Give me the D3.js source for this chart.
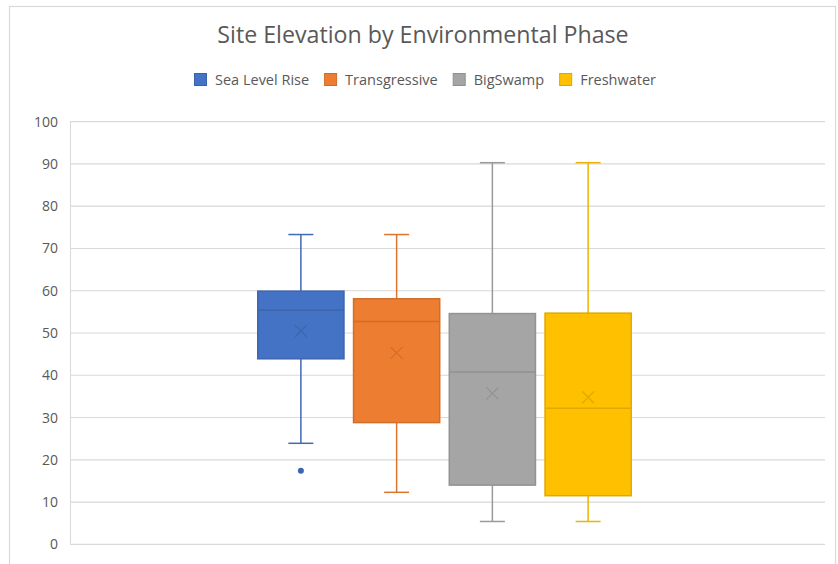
<!DOCTYPE html>
<html><head><meta charset="utf-8">
<script src="https://cdn.jsdelivr.net/npm/d3@7"></script>
<style>body{margin:0;background:#fff}svg{display:block}text{font-family:"Open Sans","Noto Sans",sans-serif}</style>
</head><body><svg id="c" width="838" height="564"></svg>
<script>
const title = "Site Elevation by Environmental Phase";
const seriesNames = ["Sea Level Rise","Transgressive","BigSwamp","Freshwater"];
const colors = ["#4472C4","#ED7D31","#A5A5A5","#FFC000"];
const minWhisker = [23.9, 12.3, 5.4, 5.4];
const q1 = [43.9, 28.8, 14.0, 11.5];
const median = [55.4, 52.7, 40.8, 32.2];
const q3 = [59.9, 58.1, 54.6, 54.7];
const maxWhisker = [73.3, 73.3, 90.3, 90.3];
const means = [50.5, 45.3, 35.7, 34.8];
const outliers = [[17.4], [], [], []];
const yTicks = [0,10,20,30,40,50,60,70,80,90,100];

const svg = d3.select("#c");
const L = 70, R = 825, T = 121.7, B = 544.3;
const ink = "#595959";

// chart border
svg.append("rect").attr("x",9.5).attr("y",6.5).attr("width",826).attr("height",600)
  .attr("fill","none").attr("stroke","#d9d9d9").attr("stroke-width",1.2);

svg.append("text").attr("x",423).attr("y",43).attr("text-anchor","middle")
  .attr("font-size",23.2).attr("fill",ink).text(title);

const y = d3.scaleLinear().domain([0,100]).range([B,T]);
const x = d3.scaleBand().domain(seriesNames).range([L+183, L+566]).paddingInner(0.1).paddingOuter(0.05);

// gridlines
svg.append("g").selectAll("line").data(yTicks).join("line")
  .attr("x1",L).attr("x2",R).attr("y1",d=>y(d)).attr("y2",d=>y(d))
  .attr("stroke","#d9d9d9").attr("stroke-width",1.2);
svg.append("line").attr("x1",L+0.5).attr("x2",L+0.5).attr("y1",T).attr("y2",B).attr("stroke","#d9d9d9");

const yAxis = d3.axisLeft(y).tickValues(yTicks).tickSize(0).tickPadding(12);
const ga = svg.append("g").attr("transform",`translate(${L},0)`).call(yAxis);
ga.select(".domain").remove();
ga.selectAll("text").attr("font-size",14).attr("fill",ink).attr("font-family",'"Open Sans","Noto Sans",sans-serif');

// legend
const lg = svg.append("g");
let lx = 194;
seriesNames.forEach((s,i)=>{
  const g = lg.append("g").attr("transform",`translate(${lx},0)`);
  g.append("rect").attr("x",0.5).attr("y",73.5).attr("width",12).attr("height",12)
    .attr("fill",colors[i]).attr("stroke",d3.color(colors[i]).darker(0.4));
  const t = g.append("text").attr("x",21).attr("y",85).attr("font-size",14.5).attr("fill",ink).text(s);
  lx += 21 + t.node().getComputedTextLength() + 15;
});

// boxes
seriesNames.forEach((s,i)=>{
  const c = colors[i];
  const dark = d3.color(c).darker(0.35).formatHex();
  const wc = d3.color(c).darker(0.2).formatHex();
  const x0 = x(s), w = x.bandwidth(), cx = x0 + w/2;
  const g = svg.append("g");
  const cap = 12.5;
  g.append("line").attr("x1",cx).attr("x2",cx).attr("y1",y(maxWhisker[i])).attr("y2",y(q3[i])).attr("stroke",wc).attr("stroke-width",1.5);
  g.append("line").attr("x1",cx).attr("x2",cx).attr("y1",y(q1[i])).attr("y2",y(minWhisker[i])).attr("stroke",wc).attr("stroke-width",1.5);
  g.append("line").attr("x1",cx-cap).attr("x2",cx+cap).attr("y1",y(maxWhisker[i])).attr("y2",y(maxWhisker[i])).attr("stroke",wc).attr("stroke-width",1.5);
  g.append("line").attr("x1",cx-cap).attr("x2",cx+cap).attr("y1",y(minWhisker[i])).attr("y2",y(minWhisker[i])).attr("stroke",wc).attr("stroke-width",1.5);
  g.append("rect").attr("x",x0).attr("width",w).attr("y",y(q3[i])).attr("height",y(q1[i])-y(q3[i]))
    .attr("fill",c).attr("stroke",dark).attr("stroke-width",1.5);
  g.append("line").attr("x1",x0).attr("x2",x0+w).attr("y1",y(median[i])).attr("y2",y(median[i])).attr("stroke",dark).attr("stroke-width",1.5);
  const my = y(means[i]), m = 6;
  g.append("path").attr("d",`M${cx-m},${my-m}L${cx+m},${my+m}M${cx-m},${my+m}L${cx+m},${my-m}`)
    .attr("stroke",dark).attr("stroke-width",1.2).attr("fill","none");
  outliers[i].forEach(o=>{
    g.append("circle").attr("cx",cx).attr("cy",y(o)).attr("r",3).attr("fill",dark);
  });
});
</script></body></html>
